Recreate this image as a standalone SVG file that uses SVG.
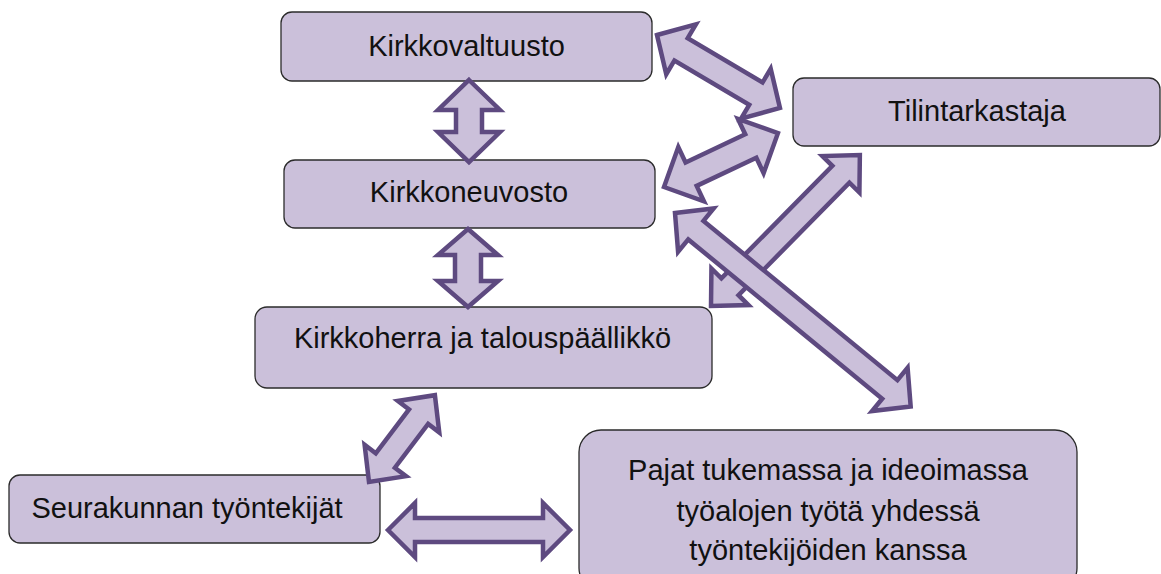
<svg xmlns="http://www.w3.org/2000/svg" width="1161" height="574" viewBox="0 0 1161 574">
<style>
.box{fill:#CBC0DA;stroke:#2b2b2b;stroke-width:1.3}
.lbl{font-family:"Liberation Sans",Arial,sans-serif;font-size:29px;fill:#111;text-anchor:middle}
.arr{fill:#CBC0DA;stroke:#5E4A80;stroke-width:4.5;stroke-linejoin:miter}
</style>
<rect width="1161" height="574" fill="#fff"/>
<g id="kirkkovaltuusto"><rect class="box" x="281" y="12" width="371" height="69" rx="11"/><text class="lbl" x="466.5" y="56">Kirkkovaltuusto</text></g>
<g id="tilintarkastaja"><rect class="box" x="793" y="78" width="367" height="68" rx="11"/><text class="lbl" x="977" y="121">Tilintarkastaja</text></g>
<g id="kirkkoneuvosto"><rect class="box" x="284" y="160" width="371" height="68" rx="11"/><text class="lbl" x="469" y="202">Kirkkoneuvosto</text></g>
<g id="kirkkoherra"><rect class="box" x="255" y="307" width="457" height="81" rx="12"/><text class="lbl" x="482.5" y="348">Kirkkoherra ja talouspäällikkö</text></g>
<g id="seurakunnan"><rect class="box" x="9" y="475" width="371" height="68" rx="11"/><text class="lbl" x="187" y="518">Seurakunnan työntekijät</text></g>
<g id="pajat"><rect class="box" x="579" y="430" width="498" height="160" rx="22"/><text class="lbl" x="828" y="480">Pajat tukemassa ja ideoimassa</text><text class="lbl" x="828" y="521">työalojen työtä yhdessä</text><text class="lbl" x="828" y="560">työntekijöiden kanssa</text></g>
<g id="connectors">
<polygon class="arr" transform="translate(469,80) rotate(90)" points="0,0 30,-31 30,-13 52,-13 52,-31 82,0 52,31 52,13 30,13 30,31"/>
<polygon class="arr" transform="translate(468,229) rotate(90)" points="0,0 26,-30 26,-13 52,-13 52,-30 78,0 52,30 52,13 26,13 26,30"/>
<polygon class="arr" transform="translate(657,35) rotate(30.7)" points="0,0 28,-29 28,-13 115,-13 115,-29 143,0 115,29 115,13 28,13 28,29"/>
<polygon class="arr" transform="translate(664,187) rotate(-25.3)" points="0,0 30,-30 30,-13 96,-13 96,-30 126,0 96,30 96,13 30,13 30,30"/>
<polygon class="arr" transform="translate(711,306) rotate(-45.4)" points="0,0 27,-26 27,-12 185,-12 185,-26 212,0 185,26 185,12 27,12 27,26"/>
<polygon class="arr" transform="translate(675,213) rotate(39.4)" points="0,0 27,-28 27,-12 278,-12 278,-28 305,0 278,28 278,12 27,12 27,28"/>
<polygon class="arr" transform="translate(369,482) rotate(-52.8)" points="0,0 27,-26 27,-12 82,-12 82,-26 109,0 82,26 82,12 27,12 27,26"/>
<polygon class="arr" points="388,530 415,503 415,518 543,518 543,503 570,530 543,557 543,542 415,542 415,557"/>
</g>
</svg>
